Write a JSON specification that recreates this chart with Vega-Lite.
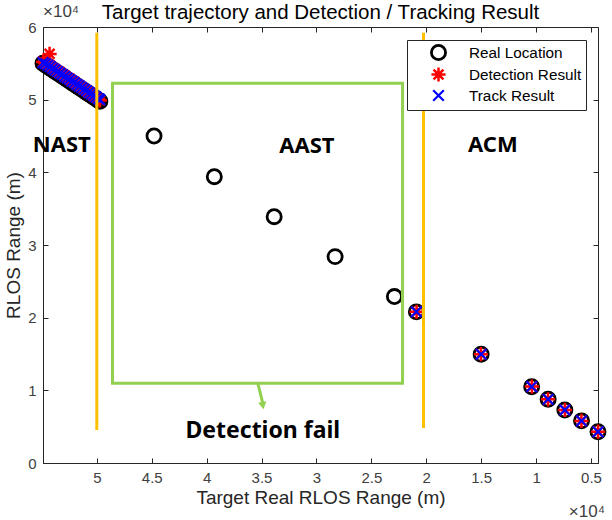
{
  "$schema": "https://vega.github.io/schema/vega-lite/v6.json",
  "width": 555,
  "height": 436,
  "autosize": {"type": "none"},
  "padding": {"left": 43, "top": 27, "right": 14, "bottom": 57},
  "background": "white",
  "config": {
    "view": {"stroke": "#262626", "strokeWidth": 1},
    "font": "Liberation Sans"
  },
  "title": {
    "text": "Target trajectory and Detection / Tracking Result",
    "fontSize": 20.5,
    "fontWeight": "normal",
    "font": "Liberation Sans",
    "color": "#000000",
    "offset": -21
  },
  "datasets": {
    "pts": [
      {"x": 54900, "y": 55000, "s": "Real Location"},
      {"x": 54680, "y": 54780, "s": "Real Location"},
      {"x": 54460, "y": 54560, "s": "Real Location"},
      {"x": 54240, "y": 54330, "s": "Real Location"},
      {"x": 54020, "y": 54110, "s": "Real Location"},
      {"x": 53800, "y": 53890, "s": "Real Location"},
      {"x": 53580, "y": 53670, "s": "Real Location"},
      {"x": 53360, "y": 53450, "s": "Real Location"},
      {"x": 53140, "y": 53220, "s": "Real Location"},
      {"x": 52920, "y": 53000, "s": "Real Location"},
      {"x": 52700, "y": 52780, "s": "Real Location"},
      {"x": 52480, "y": 52560, "s": "Real Location"},
      {"x": 52260, "y": 52340, "s": "Real Location"},
      {"x": 52040, "y": 52110, "s": "Real Location"},
      {"x": 51820, "y": 51890, "s": "Real Location"},
      {"x": 51600, "y": 51670, "s": "Real Location"},
      {"x": 51380, "y": 51450, "s": "Real Location"},
      {"x": 51160, "y": 51230, "s": "Real Location"},
      {"x": 50940, "y": 51000, "s": "Real Location"},
      {"x": 50720, "y": 50780, "s": "Real Location"},
      {"x": 50500, "y": 50560, "s": "Real Location"},
      {"x": 50280, "y": 50340, "s": "Real Location"},
      {"x": 50060, "y": 50120, "s": "Real Location"},
      {"x": 49840, "y": 49900, "s": "Real Location"},
      {"x": 49720, "y": 49780, "s": "Real Location"},
      {"x": 44790, "y": 45000, "s": "Real Location"},
      {"x": 39300, "y": 39400, "s": "Real Location"},
      {"x": 33850, "y": 33900, "s": "Real Location"},
      {"x": 28300, "y": 28400, "s": "Real Location"},
      {"x": 22900, "y": 22900, "s": "Real Location"},
      {"x": 20900, "y": 20800, "s": "Real Location"},
      {"x": 15000, "y": 14960, "s": "Real Location"},
      {"x": 10400, "y": 10500, "s": "Real Location"},
      {"x": 8900, "y": 8770, "s": "Real Location"},
      {"x": 7380, "y": 7300, "s": "Real Location"},
      {"x": 5860, "y": 5800, "s": "Real Location"},
      {"x": 4360, "y": 4300, "s": "Real Location"},
      {"x": 54900, "y": 55200, "s": "Detection Result"},
      {"x": 54700, "y": 55100, "s": "Detection Result"},
      {"x": 54300, "y": 56300, "s": "Detection Result"},
      {"x": 54480, "y": 54900, "s": "Detection Result"},
      {"x": 54260, "y": 54700, "s": "Detection Result"},
      {"x": 54040, "y": 54350, "s": "Detection Result"},
      {"x": 53820, "y": 54200, "s": "Detection Result"},
      {"x": 53600, "y": 53900, "s": "Detection Result"},
      {"x": 53380, "y": 53800, "s": "Detection Result"},
      {"x": 53160, "y": 53500, "s": "Detection Result"},
      {"x": 52940, "y": 53350, "s": "Detection Result"},
      {"x": 52720, "y": 53000, "s": "Detection Result"},
      {"x": 52500, "y": 52900, "s": "Detection Result"},
      {"x": 52280, "y": 52550, "s": "Detection Result"},
      {"x": 52060, "y": 52450, "s": "Detection Result"},
      {"x": 51840, "y": 52100, "s": "Detection Result"},
      {"x": 51620, "y": 51950, "s": "Detection Result"},
      {"x": 51400, "y": 51700, "s": "Detection Result"},
      {"x": 51180, "y": 51400, "s": "Detection Result"},
      {"x": 50960, "y": 51300, "s": "Detection Result"},
      {"x": 50740, "y": 50950, "s": "Detection Result"},
      {"x": 50520, "y": 50850, "s": "Detection Result"},
      {"x": 50300, "y": 50500, "s": "Detection Result"},
      {"x": 50080, "y": 50350, "s": "Detection Result"},
      {"x": 49860, "y": 50100, "s": "Detection Result"},
      {"x": 49720, "y": 49900, "s": "Detection Result"},
      {"x": 20880, "y": 20820, "s": "Detection Result"},
      {"x": 15020, "y": 14980, "s": "Detection Result"},
      {"x": 10380, "y": 10520, "s": "Detection Result"},
      {"x": 8910, "y": 8760, "s": "Detection Result"},
      {"x": 7370, "y": 7310, "s": "Detection Result"},
      {"x": 5870, "y": 5790, "s": "Detection Result"},
      {"x": 4350, "y": 4310, "s": "Detection Result"},
      {"x": 54900, "y": 55100, "s": "Track Result"},
      {"x": 54680, "y": 54950, "s": "Track Result"},
      {"x": 54460, "y": 54750, "s": "Track Result"},
      {"x": 54240, "y": 54550, "s": "Track Result"},
      {"x": 54020, "y": 54300, "s": "Track Result"},
      {"x": 53800, "y": 54100, "s": "Track Result"},
      {"x": 53580, "y": 53880, "s": "Track Result"},
      {"x": 53360, "y": 53650, "s": "Track Result"},
      {"x": 53140, "y": 53450, "s": "Track Result"},
      {"x": 52920, "y": 53200, "s": "Track Result"},
      {"x": 52700, "y": 52980, "s": "Track Result"},
      {"x": 52480, "y": 52780, "s": "Track Result"},
      {"x": 52260, "y": 52550, "s": "Track Result"},
      {"x": 52040, "y": 52340, "s": "Track Result"},
      {"x": 51820, "y": 52100, "s": "Track Result"},
      {"x": 51600, "y": 51900, "s": "Track Result"},
      {"x": 51380, "y": 51680, "s": "Track Result"},
      {"x": 51160, "y": 51450, "s": "Track Result"},
      {"x": 50940, "y": 51250, "s": "Track Result"},
      {"x": 50720, "y": 51000, "s": "Track Result"},
      {"x": 50500, "y": 50800, "s": "Track Result"},
      {"x": 50280, "y": 50560, "s": "Track Result"},
      {"x": 50060, "y": 50350, "s": "Track Result"},
      {"x": 49840, "y": 50120, "s": "Track Result"},
      {"x": 49720, "y": 50000, "s": "Track Result"},
      {"x": 20900, "y": 20810, "s": "Track Result"},
      {"x": 15000, "y": 14970, "s": "Track Result"},
      {"x": 10400, "y": 10510, "s": "Track Result"},
      {"x": 8900, "y": 8770, "s": "Track Result"},
      {"x": 7380, "y": 7300, "s": "Track Result"},
      {"x": 5860, "y": 5800, "s": "Track Result"},
      {"x": 4360, "y": 4300, "s": "Track Result"}
    ],
    "box": [{"x": 48570, "x2": 22160, "y": 10970, "y2": 52250}],
    "vlines": [
      {"x": 50000, "y": 4540, "y2": 59200},
      {"x": 20250, "y": 4800, "y2": 59200}
    ],
    "arrow": [{"x": 35340, "x2": 34900, "y": 11000, "y2": 8300}],
    "arrowhead": [{"x": 34880, "y": 7900}],
    "labels": [
      {"x": 53190, "y": 43760, "t": "NAST"},
      {"x": 30870, "y": 43600, "t": "AAST"},
      {"x": 13930, "y": 43760, "t": "ACM"}
    ],
    "fail": [{"x": 34880, "y": 4400, "t": "Detection fail"}],
    "expTop": [{"x": 54900, "y": 62100, "t": "×10⁴"}],
    "expBottom": [{"x": 3720, "y": -6750, "t": "×10⁴"}]
  },
  "layer": [
    {
      "data": {"name": "pts"},
      "mark": {"type": "point", "filled": false, "opacity": 1},
      "encoding": {
        "x": {
          "field": "x", "type": "quantitative",
          "scale": {"domain": [4360, 54900], "reverse": true, "nice": false, "zero": false},
          "axis": {
            "orient": "bottom",
            "values": [5000, 10000, 15000, 20000, 25000, 30000, 35000, 40000, 45000, 50000],
            "labelExpr": "datum.value / 10000",
            "title": "Target Real RLOS Range (m)",
            "titleFontSize": 19, "titleFontWeight": "normal", "titleColor": "#262626",
            "titleFont": "Liberation Sans",
            "labelFontSize": 15, "labelColor": "#404040", "labelFont": "Liberation Sans",
            "tickSize": -5, "labelPadding": 12, "titlePadding": 3,
            "domainColor": "#262626", "tickColor": "#262626", "grid": false
          }
        },
        "y": {
          "field": "y", "type": "quantitative",
          "scale": {"domain": [0, 60000], "nice": false, "zero": false},
          "axis": {
            "orient": "left",
            "values": [0, 10000, 20000, 30000, 40000, 50000, 60000],
            "labelExpr": "datum.value / 10000",
            "title": "RLOS Range (m)",
            "titleFontSize": 19, "titleFontWeight": "normal", "titleColor": "#262626",
            "titleFont": "Liberation Sans",
            "labelFontSize": 15, "labelColor": "#404040", "labelFont": "Liberation Sans",
            "tickSize": -5, "labelPadding": 12, "titlePadding": 4,
            "domainColor": "#262626", "tickColor": "#262626", "grid": false
          }
        },
        "color": {
          "field": "s", "type": "nominal",
          "scale": {"domain": ["Real Location", "Detection Result", "Track Result"], "range": ["#000000", "#ff0000", "#0000ff"]},
          "legend": {
            "title": null, "orient": "none", "legendX": 364, "legendY": 13,
            "fillColor": "white", "strokeColor": "#262626", "padding": 4,
            "symbolOffset": 19, "labelOffset": 22, "labelFontSize": 15.3, "labelFont": "Liberation Sans",
            "labelColor": "#000000", "rowPadding": -4, "symbolSize": 160, "symbolStrokeWidth": 2.5
          }
        },
        "shape": {
          "field": "s", "type": "nominal",
          "scale": {
            "domain": ["Real Location", "Detection Result", "Track Result"],
            "range": ["circle", "M0,-1V1M-1,0H1M-0.7,-0.7L0.7,0.7M-0.7,0.7L0.7,-0.7", "M-0.75,-0.75L0.75,0.75M-0.75,0.75L0.75,-0.75"]
          },
          "legend": {
            "title": null, "orient": "none", "legendX": 364, "legendY": 13,
            "fillColor": "white", "strokeColor": "#262626", "padding": 4,
            "symbolOffset": 19, "labelOffset": 22, "labelFontSize": 15.3, "labelFont": "Liberation Sans",
            "labelColor": "#000000", "rowPadding": -4, "symbolSize": 160, "symbolStrokeWidth": 2.5
          }
        },
        "size": {
          "field": "s", "type": "nominal",
          "scale": {"domain": ["Real Location", "Detection Result", "Track Result"], "range": [200, 200, 130]},
          "legend": null
        },
        "strokeWidth": {
          "field": "s", "type": "nominal",
          "scale": {"domain": ["Real Location", "Detection Result", "Track Result"], "range": [2.8, 2.2, 2.8]},
          "legend": null
        }
      }
    },
    {
      "data": {"name": "box"},
      "mark": {"type": "rect", "filled": false, "stroke": "#92d050", "strokeWidth": 3},
      "encoding": {
        "x": {"field": "x", "type": "quantitative", "axis": {
          "orient": "top", "labels": false, "title": null, "tickSize": -5, "domain": false,
          "values": [5000, 10000, 15000, 20000, 25000, 30000, 35000, 40000, 45000, 50000],
          "tickColor": "#262626", "grid": false, "minExtent": 0, "maxExtent": 0}},
        "x2": {"field": "x2"},
        "y": {"field": "y", "type": "quantitative", "axis": {
          "orient": "right", "labels": false, "title": null, "tickSize": -5, "domain": false,
          "values": [0, 10000, 20000, 30000, 40000, 50000, 60000],
          "tickColor": "#262626", "grid": false, "minExtent": 0, "maxExtent": 0}},
        "y2": {"field": "y2"}
      }
    },
    {
      "data": {"name": "vlines"},
      "mark": {"type": "rule", "color": "#ffc000", "strokeWidth": 3},
      "encoding": {
        "x": {"field": "x", "type": "quantitative", "axis": null},
        "y": {"field": "y", "type": "quantitative", "axis": null},
        "y2": {"field": "y2"}
      }
    },
    {
      "data": {"name": "arrow"},
      "mark": {"type": "rule", "color": "#92d050", "strokeWidth": 3},
      "encoding": {
        "x": {"field": "x", "type": "quantitative", "axis": null},
        "x2": {"field": "x2"},
        "y": {"field": "y", "type": "quantitative", "axis": null},
        "y2": {"field": "y2"}
      }
    },
    {
      "data": {"name": "arrowhead"},
      "mark": {"type": "point", "shape": "triangle-down", "filled": true, "color": "#92d050", "size": 70, "angle": -10, "opacity": 1},
      "encoding": {
        "x": {"field": "x", "type": "quantitative", "axis": null},
        "y": {"field": "y", "type": "quantitative", "axis": null}
      }
    },
    {
      "data": {"name": "labels"},
      "mark": {"type": "text", "font": "Noto Sans", "fontWeight": "bold", "fontSize": 22, "color": "#000000", "align": "center", "baseline": "middle"},
      "encoding": {
        "x": {"field": "x", "type": "quantitative", "axis": null},
        "y": {"field": "y", "type": "quantitative", "axis": null},
        "text": {"field": "t"}
      }
    },
    {
      "data": {"name": "fail"},
      "mark": {"type": "text", "font": "Noto Sans", "fontWeight": "bold", "fontSize": 23, "color": "#000000", "align": "center", "baseline": "middle"},
      "encoding": {
        "x": {"field": "x", "type": "quantitative", "axis": null},
        "y": {"field": "y", "type": "quantitative", "axis": null},
        "text": {"field": "t"}
      }
    },
    {
      "data": {"name": "expTop"},
      "mark": {"type": "text", "font": "Liberation Sans", "fontSize": 17, "color": "#404040", "baseline": "middle", "align": "left"},
      "encoding": {
        "x": {"field": "x", "type": "quantitative", "axis": null},
        "y": {"field": "y", "type": "quantitative", "axis": null},
        "text": {"field": "t"}
      }
    },
    {
      "data": {"name": "expBottom"},
      "mark": {"type": "text", "font": "Liberation Sans", "fontSize": 17, "color": "#404040", "baseline": "middle", "align": "right"},
      "encoding": {
        "x": {"field": "x", "type": "quantitative", "axis": null},
        "y": {"field": "y", "type": "quantitative", "axis": null},
        "text": {"field": "t"}
      }
    }
  ],
  "resolve": {"axis": {"x": "independent", "y": "independent"}}
}
